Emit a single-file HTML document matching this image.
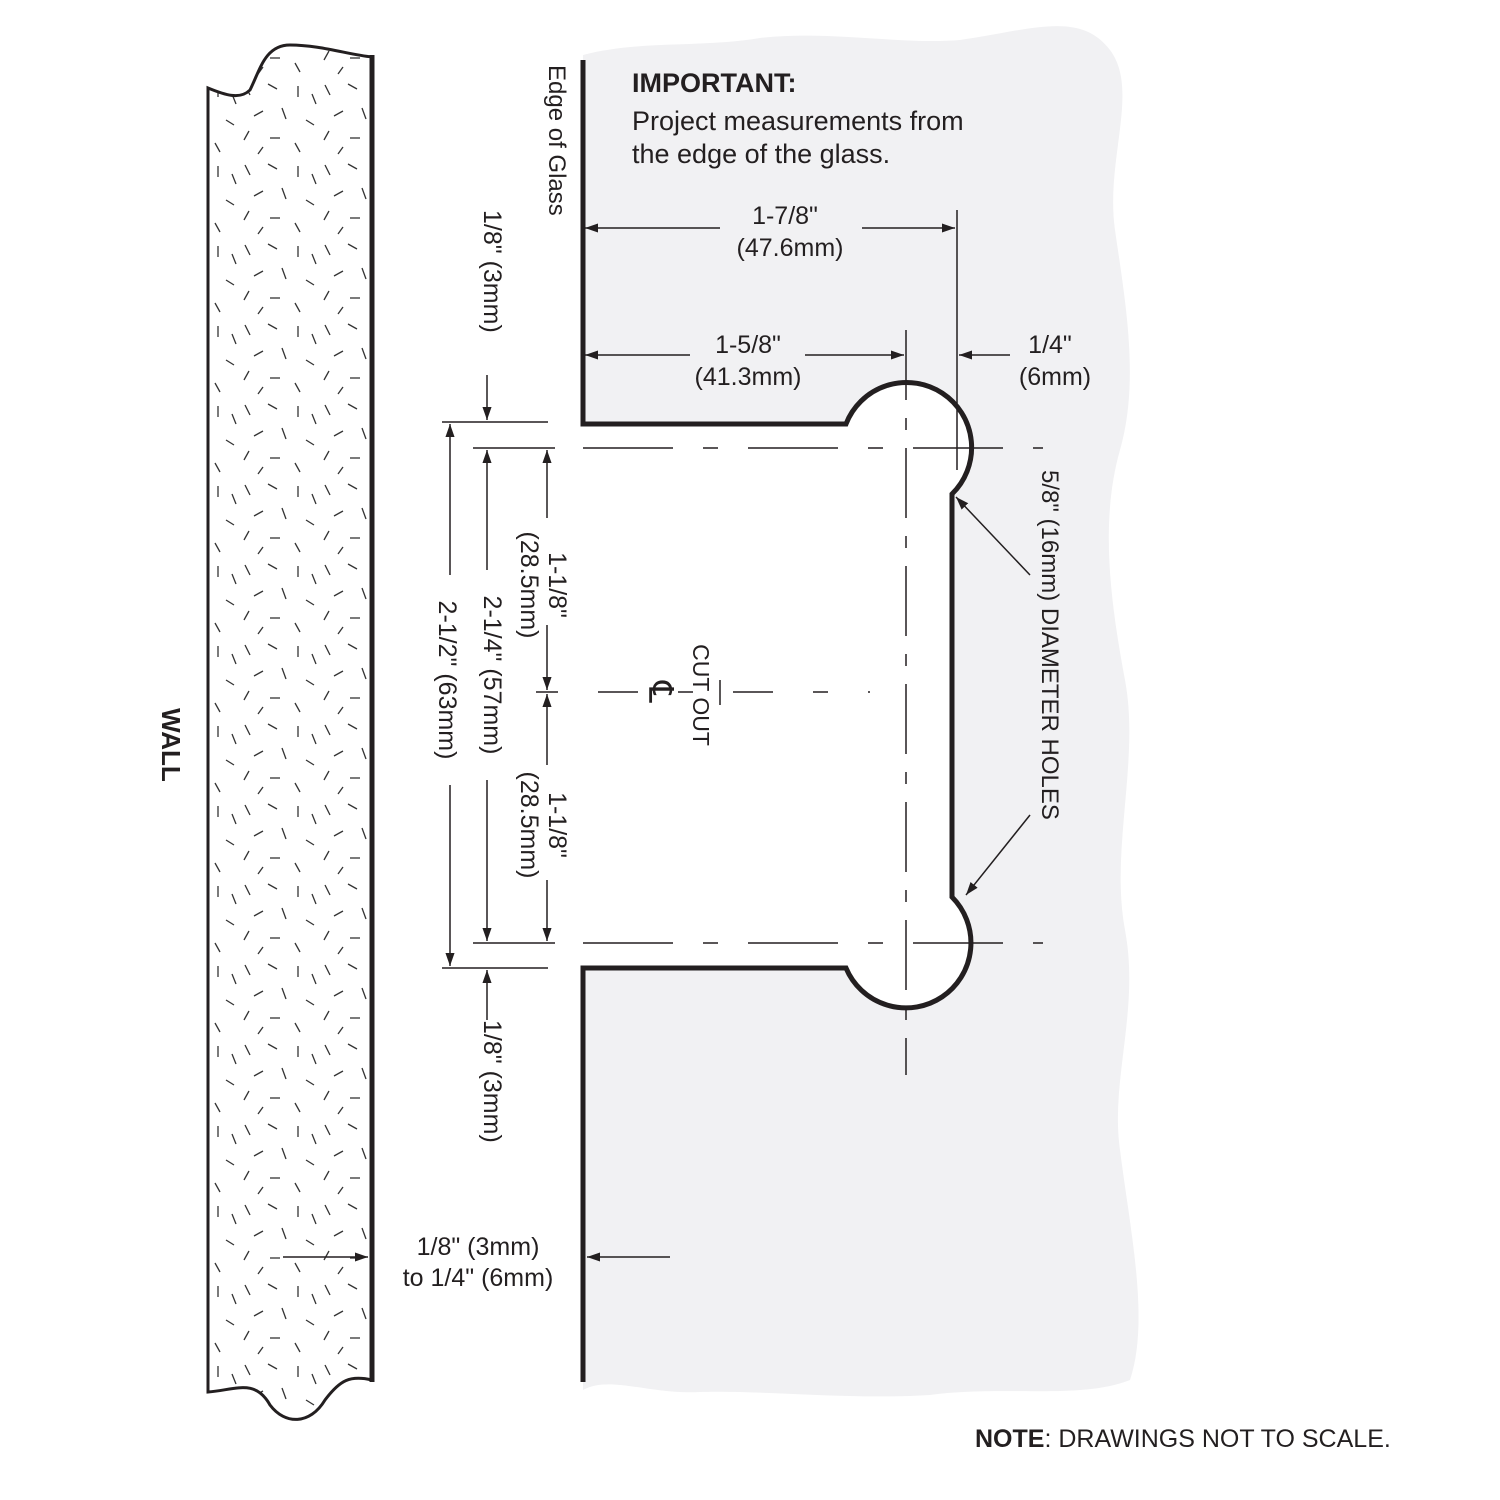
<!DOCTYPE html>
<html><head><meta charset="utf-8"><style>
html,body{margin:0;padding:0;background:#fff;overflow:hidden}
svg{display:block}
text{font-family:"Liberation Sans",sans-serif;fill:#231f20}
</style></head><body>
<svg width="1500" height="1500" viewBox="0 0 1500 1500" xmlns="http://www.w3.org/2000/svg">
<defs>
<pattern id="dots" width="80" height="80" patternUnits="userSpaceOnUse">
<g stroke="#333" stroke-width="1.3">
<line x1="5" y1="5" x2="10" y2="15"/><line x1="28" y1="4" x2="37" y2="9"/><line x1="58" y1="6" x2="58" y2="17"/>
<line x1="14" y1="36" x2="23" y2="31"/><line x1="42" y1="28" x2="46" y2="39"/><line x1="66" y1="40" x2="74" y2="45"/>
<line x1="4" y1="60" x2="9" y2="51"/><line x1="30" y1="58" x2="40" y2="58"/><line x1="55" y1="63" x2="60" y2="72"/>
<line x1="18" y1="74" x2="23" y2="67"/><line x1="72" y1="14" x2="76" y2="24"/>
</g></pattern>
<marker id="a" viewBox="0 0 10 10" refX="10" refY="5" markerWidth="13" markerHeight="13" markerUnits="userSpaceOnUse" orient="auto"><path d="M0,1.5 L10,5 L0,8.5 z" fill="#231f20"/></marker>
</defs>
<path d="M583,55 C640,40 700,48 760,38 C830,30 900,45 960,40 C1030,30 1080,10 1110,50 C1140,90 1105,160 1115,230 C1125,300 1140,380 1120,450 C1100,520 1110,600 1125,680 C1140,760 1110,850 1125,930 C1140,1010 1110,1080 1120,1150 C1130,1230 1150,1320 1130,1380 C1080,1400 1000,1385 930,1395 C850,1400 760,1390 700,1392 C650,1395 610,1375 583,1390 Z" fill="#f1f1f3"/>
<path d="M583,424 H846 A65,65 0 1 1 952,494 V897 A65,65 0 1 1 846,968 H583 Z" fill="#fff"/>
<path d="M208,88 C225,95 240,100 250,90 C260,70 265,45 290,45 C320,45 350,55 372,57 V1380 C350,1375 340,1380 325,1400 C310,1425 285,1425 270,1405 C255,1378 235,1390 208,1392 Z" fill="url(#dots)" stroke="#231f20" stroke-width="3"/>
<line x1="372" y1="55" x2="372" y2="1382" stroke="#231f20" stroke-width="5"/>
<text transform="translate(162,745) rotate(90)" font-size="26" font-weight="bold" text-anchor="middle">WALL</text>
<path d="M583,60 V424 H846 A65,65 0 1 1 952,494 V897 A65,65 0 1 1 846,968 H583 V1382" fill="none" stroke="#231f20" stroke-width="5"/>
<g stroke="#231f20" stroke-width="1.5" fill="none">
<line x1="906" y1="330" x2="906" y2="1075" stroke-dasharray="70,18,12,18"/>
<line x1="583" y1="448" x2="1043" y2="448" stroke-dasharray="90,30,15,30"/>
<line x1="583" y1="943" x2="1043" y2="943" stroke-dasharray="90,30,15,30"/>
<line x1="598" y1="692" x2="870" y2="692" stroke-dasharray="40,40,15,40"/>
<line x1="720" y1="680" x2="720" y2="705"/>
<line x1="957" y1="210" x2="957" y2="470"/>
<line x1="442" y1="422" x2="548" y2="422"/>
<line x1="473" y1="448" x2="555" y2="448"/>
<line x1="473" y1="943" x2="555" y2="943"/>
<line x1="442" y1="968" x2="548" y2="968"/>
<line x1="536" y1="692" x2="558" y2="692"/>
<line x1="720" y1="228" x2="585" y2="228" marker-end="url(#a)"/>
<line x1="862" y1="228" x2="955" y2="228" marker-end="url(#a)"/>
<line x1="690" y1="355" x2="585" y2="355" marker-end="url(#a)"/>
<line x1="805" y1="355" x2="904" y2="355" marker-end="url(#a)"/>
<line x1="1010" y1="355" x2="959" y2="355" marker-end="url(#a)"/>
<line x1="450" y1="575" x2="450" y2="424" marker-end="url(#a)"/>
<line x1="450" y1="785" x2="450" y2="966" marker-end="url(#a)"/>
<line x1="487" y1="570" x2="487" y2="450" marker-end="url(#a)"/>
<line x1="487" y1="780" x2="487" y2="941" marker-end="url(#a)"/>
<line x1="547" y1="518" x2="547" y2="450" marker-end="url(#a)"/>
<line x1="547" y1="625" x2="547" y2="690" marker-end="url(#a)"/>
<line x1="547" y1="765" x2="547" y2="694" marker-end="url(#a)"/>
<line x1="547" y1="880" x2="547" y2="941" marker-end="url(#a)"/>
<line x1="487" y1="375" x2="487" y2="420" marker-end="url(#a)"/>
<line x1="487" y1="1020" x2="487" y2="970" marker-end="url(#a)"/>
<line x1="283" y1="1257" x2="368" y2="1257" marker-end="url(#a)"/>
<line x1="670" y1="1257" x2="587" y2="1257" marker-end="url(#a)"/>
<line x1="1030" y1="575" x2="956" y2="497" marker-end="url(#a)"/>
<line x1="1030" y1="815" x2="966" y2="895" marker-end="url(#a)"/>
</g>
<g font-size="25" text-anchor="middle">
<text x="785" y="224">1-7/8"</text><text x="790" y="256">(47.6mm)</text>
<text x="748" y="353">1-5/8"</text><text x="748" y="385">(41.3mm)</text>
<text x="1050" y="353">1/4"</text><text x="1055" y="385">(6mm)</text>
<text x="478" y="1255">1/8" (3mm)</text><text x="478" y="1286">to 1/4" (6mm)</text>
</g>
<g font-size="25">
<text transform="translate(549,65) rotate(90)" font-size="24">Edge of Glass</text>
<text transform="translate(484,210) rotate(90)">1/8" (3mm)</text>
<text transform="translate(484,1020) rotate(90)">1/8" (3mm)</text>
<text transform="translate(1042,470) rotate(90)" font-size="24">5/8" (16mm) DIAMETER HOLES</text>
<text transform="translate(549,585) rotate(90)" text-anchor="middle"><tspan x="0" y="0">1-1/8"</tspan><tspan x="0" y="28">(28.5mm)</tspan></text>
<text transform="translate(549,825) rotate(90)" text-anchor="middle"><tspan x="0" y="0">1-1/8"</tspan><tspan x="0" y="28">(28.5mm)</tspan></text>
<text transform="translate(484,675) rotate(90)" text-anchor="middle">2-1/4" (57mm)</text>
<text transform="translate(439,680) rotate(90)" text-anchor="middle">2-1/2" (63mm)</text>
<text transform="translate(693,695) rotate(90)" text-anchor="middle" font-size="23">CUT OUT</text>
<text transform="translate(649,692) rotate(90)" text-anchor="middle" font-size="34">℄</text>
</g>
<g font-size="27">
<text x="632" y="92" font-weight="bold">IMPORTANT:</text>
<text x="632" y="130">Project measurements from</text>
<text x="632" y="163">the edge of the glass.</text>
</g>
<text x="975" y="1447" font-size="25"><tspan font-weight="bold">NOTE</tspan>: DRAWINGS NOT TO SCALE.</text>
</svg>
</body></html>
